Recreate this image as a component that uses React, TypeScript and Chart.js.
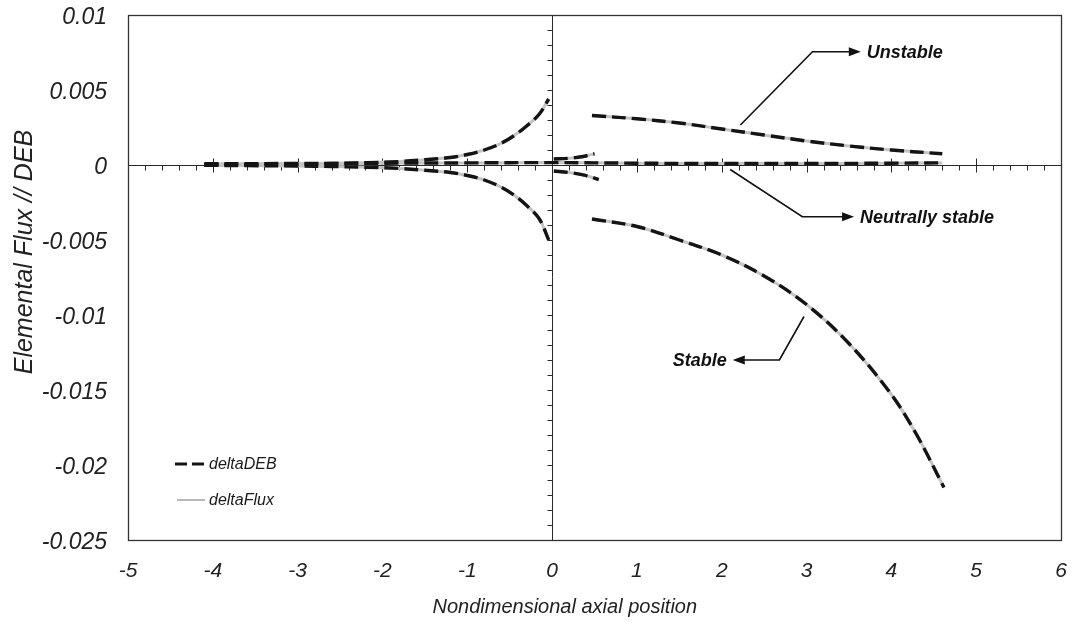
import React, { useEffect, useRef } from "react";
import { Chart, registerables } from "chart.js";

Chart.register(...registerables);

// ---------- data ----------
const xTickValues = [-5, -4, -3, -2, -1, 0, 1, 2, 3, 4, 5, 6];
const yTickValues = [0.01, 0.005, 0, -0.005, -0.01, -0.015, -0.02, -0.025];

// left side, growing branch
const upperLeftX = [-4.1, -3.6, -3.0, -2.6, -2.2, -1.8, -1.5, -1.2, -1.0, -0.8, -0.6, -0.45, -0.3, -0.15, -0.04];
const upperLeftDEB = [0.00002, 0.00004, 0.00007, 0.0001, 0.00015, 0.00023, 0.00035, 0.0005, 0.0007, 0.001, 0.00145, 0.00195, 0.0026, 0.0034, 0.0044];
const upperLeftFlux = [0.00002, 0.00004, 0.00007, 0.0001, 0.00015, 0.00023, 0.00035, 0.0005, 0.0007, 0.001, 0.00145, 0.00195, 0.0026, 0.0034, 0.0044];

// left side, decaying branch
const lowerLeftX = [-4.1, -3.6, -3.0, -2.6, -2.2, -1.8, -1.5, -1.2, -1.0, -0.8, -0.6, -0.45, -0.3, -0.15, -0.04];
const lowerLeftDEB = [-0.00002, -0.00004, -0.00007, -0.0001, -0.00015, -0.00023, -0.00035, -0.0005, -0.0007, -0.001, -0.00148, -0.002, -0.0027, -0.0036, -0.005];
const lowerLeftFlux = [-0.00002, -0.00004, -0.00007, -0.0001, -0.00015, -0.00023, -0.00035, -0.0005, -0.0007, -0.001, -0.00148, -0.002, -0.0027, -0.0036, -0.005];

// neutrally stable line
const neutralX = [-4.1, -3.0, -2.0, -1.0, 0.0, 1.0, 2.0, 3.0, 4.0, 4.6];
const neutralDEB = [0.00008, 0.0001, 0.00012, 0.00014, 0.00016, 0.00012, 0.0001, 0.0001, 0.00012, 0.00014];
const neutralFlux = [0.00008, 0.0001, 0.00012, 0.00014, 0.00016, 0.00012, 0.0001, 0.0001, 0.00012, 0.00014];

// short branches just right of zero
const shortUpperX = [0.02, 0.2, 0.35, 0.5];
const shortUpperDEB = [0.0004, 0.00045, 0.00055, 0.00075];
const shortUpperFlux = [0.0004, 0.00045, 0.00055, 0.00075];
const shortLowerX = [0.02, 0.2, 0.38, 0.55];
const shortLowerDEB = [-0.0004, -0.0005, -0.00068, -0.00097];
const shortLowerFlux = [-0.0004, -0.0005, -0.00068, -0.00097];

// unstable branch (right)
const unstableX = [0.47, 1.0, 1.5, 2.0, 2.5, 3.0, 3.5, 4.0, 4.6];
const unstableDEB = [0.0033, 0.00308, 0.0028, 0.0024, 0.002, 0.0016, 0.00127, 0.001, 0.00075];
const unstableFlux = [0.0033, 0.00308, 0.0028, 0.0024, 0.002, 0.0016, 0.00127, 0.001, 0.00075];

// stable branch (right)
const stableX = [0.47, 1.0, 1.5, 2.0, 2.5, 3.0, 3.5, 4.0, 4.3, 4.62];
const stableDEB = [-0.0036, -0.0041, -0.005, -0.006, -0.0074, -0.0093, -0.0119, -0.0153, -0.018, -0.0215];
const stableFlux = [-0.0036, -0.0041, -0.005, -0.006, -0.0074, -0.0093, -0.0119, -0.0153, -0.018, -0.0215];

const seriesNames = ["deltaDEB", "deltaFlux"];
const xAxisTitle = "Nondimensional axial position";
const yAxisTitle = "Elemental Flux // DEB";

// annotation call-outs: path points in data units, label, side of label
const annotationLabels = ["Unstable", "Neutrally stable", "Stable"];
const annotationPathX = [
  [2.22, 3.07, 3.64],
  [2.1, 2.95, 3.56],
  [2.97, 2.68, 2.13],
];
const annotationPathY = [
  [0.00267, 0.00755, 0.00755],
  [-0.0003, -0.00345, -0.00345],
  [-0.0101, -0.013, -0.013],
];
const annotationSide = ["right", "right", "left"];

// ---------- component ----------
const FONT = "'Liberation Sans', Arial, sans-serif";

function pts(xs: number[], ys: number[]) {
  return xs.map((x, i) => ({ x, y: ys[i] }));
}

export default function App() {
  const ref = useRef<HTMLCanvasElement | null>(null);

  useEffect(() => {
    document.body.style.margin = "0";
    const canvas = ref.current;
    if (!canvas) return;

    const curves = [
      [upperLeftX, upperLeftDEB, upperLeftFlux],
      [lowerLeftX, lowerLeftDEB, lowerLeftFlux],
      [neutralX, neutralDEB, neutralFlux],
      [shortUpperX, shortUpperDEB, shortUpperFlux],
      [shortLowerX, shortLowerDEB, shortLowerFlux],
      [unstableX, unstableDEB, unstableFlux],
      [stableX, stableDEB, stableFlux],
    ];

    const debSets = curves.map((c) => ({
      label: seriesNames[0],
      data: pts(c[0], c[1]),
      showLine: true,
      borderColor: "#141414",
      borderWidth: 3.4,
      borderDash: [14, 6],
      pointRadius: 0,
      tension: 0.35,
      fill: false,
      order: 1,
    }));
    const fluxSets = curves.map((c) => ({
      label: seriesNames[1],
      data: pts(c[0], c[2]),
      showLine: true,
      borderColor: "#c4c4c4",
      borderWidth: 3,
      pointRadius: 0,
      tension: 0.35,
      fill: false,
      order: 2,
    }));

    const innerAxes = {
      id: "innerAxes",
      beforeDatasetsDraw(chart: any) {
        const { ctx, chartArea: a, scales } = chart;
        const xs = scales.x;
        const ys = scales.y;
        const x0 = Math.round(xs.getPixelForValue(0)) + 0.5;
        const y0 = Math.round(ys.getPixelForValue(0)) + 0.5;
        ctx.save();
        ctx.strokeStyle = "#2a2a2a";
        ctx.lineWidth = 1;
        ctx.beginPath();
        ctx.moveTo(a.left, y0);
        ctx.lineTo(a.right, y0);
        ctx.moveTo(x0, a.top);
        ctx.lineTo(x0, a.bottom);
        for (let i = -25; i <= 30; i++) {
          const px = Math.round(xs.getPixelForValue(i * 0.2)) + 0.5;
          if (i % 5 === 0) {
            ctx.moveTo(px, y0 - 7);
            ctx.lineTo(px, y0 + 7);
          } else {
            ctx.moveTo(px, y0);
            ctx.lineTo(px, y0 + 5);
          }
        }
        for (let i = -25; i <= 10; i++) {
          const py = Math.round(ys.getPixelForValue(i * 0.001)) + 0.5;
          ctx.moveTo(x0 - 5, py);
          ctx.lineTo(x0, py);
        }
        ctx.stroke();
        ctx.strokeStyle = "#333";
        ctx.lineWidth = 1.3;
        ctx.strokeRect(a.left + 0.5, a.top + 0.5, a.right - a.left, a.bottom - a.top);
        ctx.restore();
      },
    };

    const overlay = {
      id: "overlay",
      afterDatasetsDraw(chart: any) {
        const { ctx, chartArea: a, scales } = chart;
        const xs = scales.x;
        const ys = scales.y;
        ctx.save();
        ctx.strokeStyle = "#111";
        ctx.fillStyle = "#111";
        ctx.lineWidth = 1.6;
        ctx.font = `italic bold 18px ${FONT}`;
        ctx.textBaseline = "middle";
        annotationLabels.forEach((lab, k) => {
          const px = annotationPathX[k].map((v) => xs.getPixelForValue(v));
          const py = annotationPathY[k].map((v) => ys.getPixelForValue(v));
          const n = px.length;
          const dir = annotationSide[k] === "right" ? 1 : -1;
          ctx.beginPath();
          ctx.moveTo(px[0], py[0]);
          for (let i = 1; i < n - 1; i++) ctx.lineTo(px[i], py[i]);
          ctx.lineTo(px[n - 1] - dir * 10, py[n - 1]);
          ctx.stroke();
          ctx.beginPath();
          ctx.moveTo(px[n - 1], py[n - 1]);
          ctx.lineTo(px[n - 1] - dir * 12, py[n - 1] - 4.5);
          ctx.lineTo(px[n - 1] - dir * 12, py[n - 1] + 4.5);
          ctx.closePath();
          ctx.fill();
          ctx.textAlign = dir === 1 ? "left" : "right";
          ctx.fillText(lab, px[n - 1] + dir * 6, py[n - 1] + 1);
        });

        // legend inside the plot
        const lx = a.left + 47;
        const ly = [a.bottom - 76, a.bottom - 40];
        ctx.font = `italic 16px ${FONT}`;
        ctx.textAlign = "left";
        ctx.fillStyle = "#1a1a1a";
        ctx.strokeStyle = "#141414";
        ctx.lineWidth = 3;
        ctx.setLineDash([12, 5]);
        ctx.beginPath();
        ctx.moveTo(lx, ly[0]);
        ctx.lineTo(lx + 30, ly[0]);
        ctx.stroke();
        ctx.setLineDash([]);
        ctx.fillText(seriesNames[0], lx + 34, ly[0] + 1);
        ctx.strokeStyle = "#b8b8b8";
        ctx.lineWidth = 2;
        ctx.beginPath();
        ctx.moveTo(lx + 2, ly[1]);
        ctx.lineTo(lx + 30, ly[1]);
        ctx.stroke();
        ctx.fillText(seriesNames[1], lx + 34, ly[1] + 1);

        // axis titles
        ctx.fillStyle = "#222";
        ctx.textAlign = "center";
        ctx.font = `italic 20px ${FONT}`;
        ctx.fillText(xAxisTitle, xs.getPixelForValue(0.15), 607);
        ctx.save();
        ctx.translate(25, ys.getPixelForValue(-0.0058));
        ctx.rotate(-Math.PI / 2);
        ctx.font = `italic 25px ${FONT}`;
        ctx.fillText(yAxisTitle, 0, 0);
        ctx.restore();
        ctx.restore();
      },
    };

    const chart = new Chart(canvas, {
      type: "scatter",
      data: { datasets: [...debSets, ...fluxSets] as any },
      options: {
        animation: false,
        responsive: false,
        maintainAspectRatio: false,
        layout: { padding: { top: 15, right: 13, left: 0, bottom: 0 } },
        plugins: { legend: { display: false }, tooltip: { enabled: false } },
        scales: {
          x: {
            type: "linear",
            min: -5,
            max: 6,
            afterBuildTicks: (s: any) => {
              s.ticks = xTickValues.map((v) => ({ value: v }));
            },
            afterFit: (s: any) => {
              s.height = 84;
              s.paddingLeft = 0;
              s.paddingRight = 0;
            },
            grid: { display: false, drawTicks: false },
            border: { display: false },
            ticks: {
              padding: 19,
              color: "#222",
              font: { family: FONT, size: 21, style: "italic" },
              callback: (v: any) => String(v),
            },
          },
          y: {
            type: "linear",
            min: -0.025,
            max: 0.01,
            afterBuildTicks: (s: any) => {
              s.ticks = yTickValues.map((v) => ({ value: v }));
            },
            afterFit: (s: any) => {
              s.width = 128;
              s.paddingTop = 0;
              s.paddingBottom = 0;
            },
            grid: { display: false, drawTicks: false },
            border: { display: false },
            ticks: {
              padding: 21,
              labelOffset: 3,
              color: "#222",
              font: { family: FONT, size: 23, style: "italic" },
              callback: (v: any) => String(Number(Number(v).toFixed(3))),
            },
          },
        },
      },
      plugins: [innerAxes, overlay],
    } as any);

    return () => chart.destroy();
  }, []);

  return (
    <div style={{ width: 1074, height: 624, background: "#fff" }}>
      <canvas ref={ref} width={1074} height={624} style={{ display: "block" }} />
    </div>
  );
}
